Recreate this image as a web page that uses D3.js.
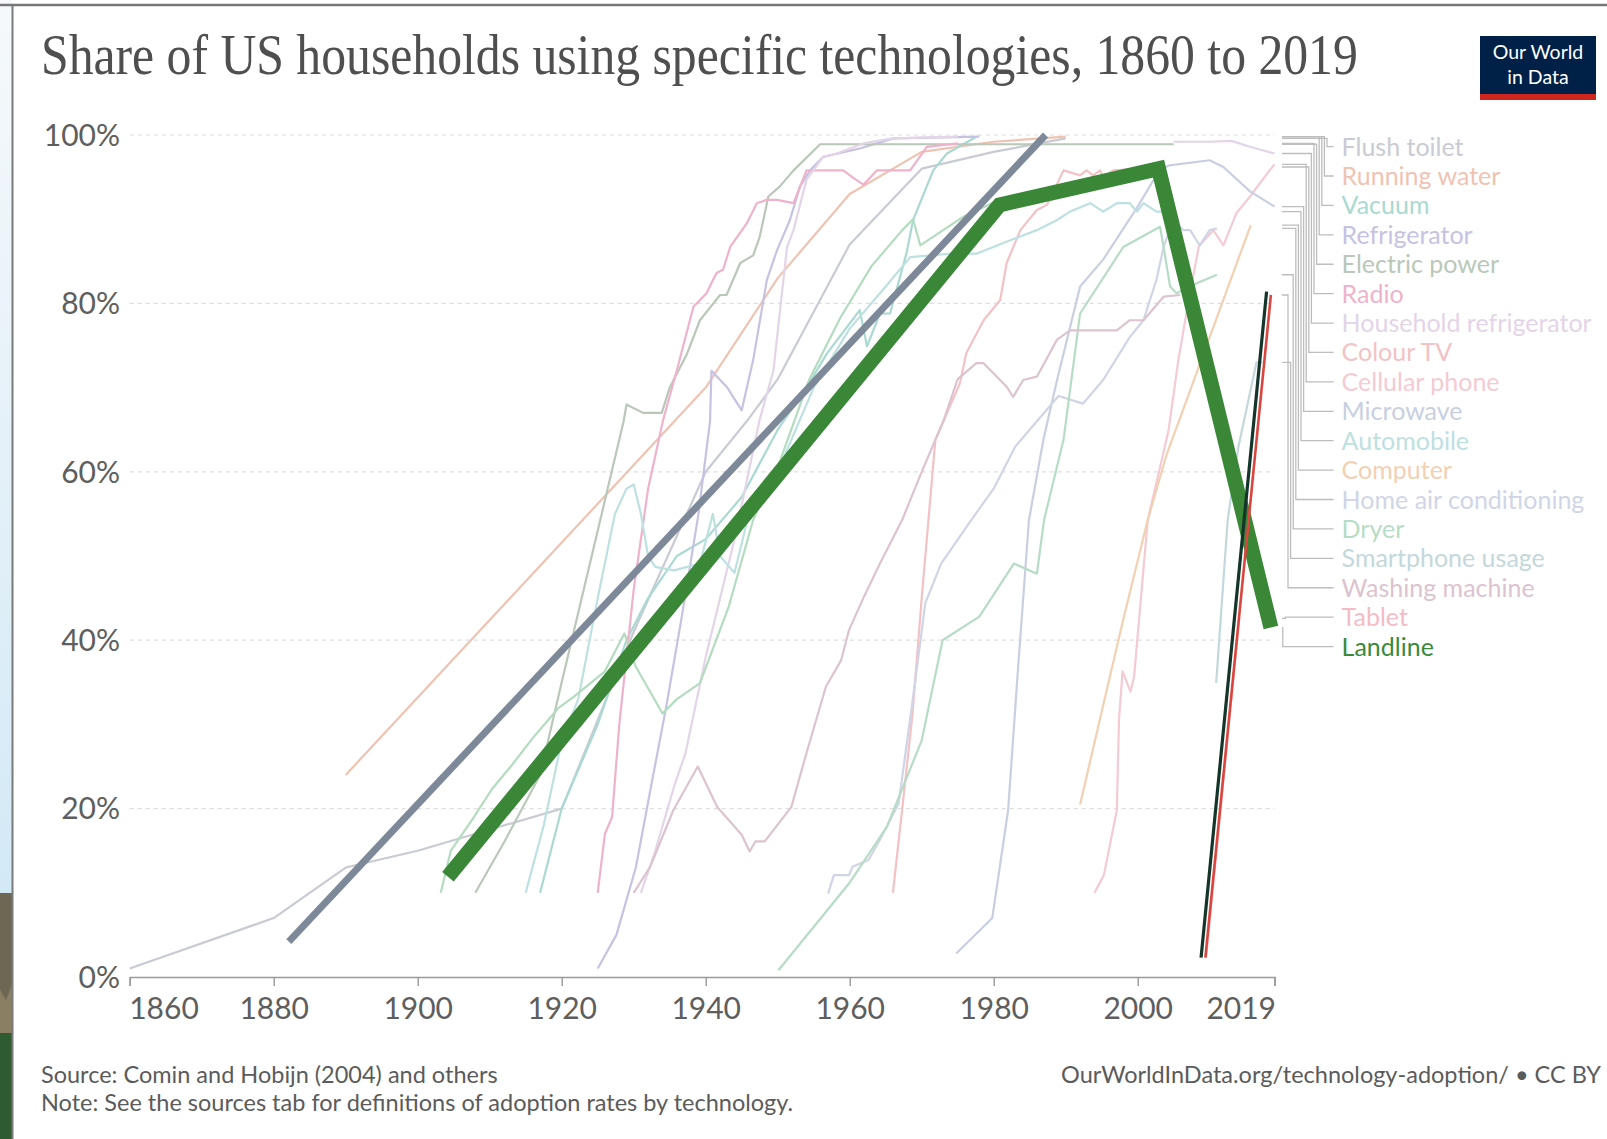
<!DOCTYPE html>
<html>
<head>
<meta charset="utf-8">
<script src="https://cdn.jsdelivr.net/npm/d3@7"></script>
<style>
  html, body { margin: 0; padding: 0; background: #fff; }
  svg { display: block; }
  text { font-family: Lato, "Noto Sans", sans-serif; }
</style>
</head>
<body>
<svg id="chart" width="1607" height="1139"></svg>
<script>
// ---- data (year, share in %) ----
const legendNames = ["Flush toilet", "Running water", "Vacuum", "Refrigerator", "Electric power", "Radio",
  "Household refrigerator", "Colour TV", "Cellular phone", "Microwave", "Automobile", "Computer",
  "Home air conditioning", "Dryer", "Smartphone usage", "Washing machine", "Tablet", "Landline"];

const fadedColors = ["#c9cbd4", "#efc3b2", "#a9d9d2", "#c6c2e2", "#b9c8b8", "#efb2cb",
  "#e4d4e8", "#f2c2c4", "#f4cad3", "#c8cfe1", "#bde0e1", "#f2d0b2",
  "#d0d5e6", "#b7dcc5", "#c3d8dc", "#dcc3d0", "#f4bcc5", "#3a8a3a"];

const flushToilet = [[1860,1],[1880,7],[1890,13],[1900,15],[1920,20],[1930,41],[1940,60],[1945.7,66],[1950,71],[1960,87],[1970,96],[1980,98],[1990,99.6]];
const runningWater = [[1890,24],[1940,70],[1950,83],[1960,93],[1970,98],[1980,99.2],[1990,99.8]];
const vacuum = [[1917,10],[1920,20],[1925,30],[1929,40],[1932,45],[1936,50],[1940,52],[1945,57],[1950,65],[1954,70],[1956.8,74],[1961.4,79.2],[1962.4,74.9],[1964.2,78.8],[1965.6,78.8],[1967.9,86],[1968.8,89.9],[1971.6,95.8],[1973.5,97.8],[1977.6,99.8]];
const refrigerator = [[1925,1],[1927.6,5],[1930.3,13],[1932.4,22.6],[1934.5,32],[1936.6,42.4],[1939,55],[1940.6,66],[1940.8,72],[1943,70],[1945,67.3],[1946.6,73.3],[1948.5,82.8],[1949.9,86.3],[1951.7,89.9],[1953.1,93.9],[1954.5,95.8],[1956.3,97.4],[1961.4,98.4],[1966.1,99.6],[1978,99.8]];
const electricPower = [[1908,10],[1912,16],[1917,24],[1920,35],[1925,53],[1928.6,66],[1929,68],[1931.3,67],[1933.9,67],[1935,70],[1937.4,74],[1939.2,78],[1942,81],[1942.9,81],[1944.8,84.8],[1946.6,85.7],[1947.5,87.9],[1948.7,92.7],[1950.3,93.9],[1952.2,95.8],[1955.9,98.9],[2005,98.9]];
const radio = [[1925,10],[1926,17],[1927,19],[1928,30],[1930,46],[1932,58],[1934.1,66.2],[1936,72.1],[1938.3,79.6],[1940.1,81.2],[1941.5,83.6],[1942.4,84],[1943.4,86.7],[1945.7,89.5],[1947.1,91.9],[1948.5,92.3],[1949.9,92.3],[1952.2,91.9],[1954,95.8],[1959.1,95.8],[1960.5,94.9],[1961.9,94.1],[1963.8,95.8],[1968.4,95.8],[1970.7,98.6],[1975,99]];
const householdRefrigerator = [[1931,10],[1932.9,14.7],[1935.6,22.6],[1937.2,26.6],[1940,38],[1944,52],[1947.5,66.2],[1949.4,72],[1951.3,86.7],[1952.2,88.7],[1954,94.7],[1956.3,97.4],[1958.2,97.8],[1961.9,99],[1966,99.6],[1975,99.8],
  [2004,null],[2005,99.2],[2010,99.2],[2013,99.3],[2015.6,98.6],[2019,97.8]];
const colourTV = [[1966,10],[1967.3,20],[1968.7,31],[1970,45],[1971.9,63.8],[1975.3,70.5],[1976.2,74.1],[1978.6,78],[1980.9,80.4],[1981.8,84.8],[1983.7,88.7],[1986,91.1],[1987.4,91.7],[1989.7,95.8],[1992,95.2],[1992.9,95.8],[1993.8,95.2],[1994.8,95.8],[1995.2,95],[1996.6,95.8],[2004,96.2]];
const cellularPhone = [[1994,10],[1995.3,12.1],[1997.1,19.8],[1997.4,30.5],[1997.9,36.3],[1999,33.9],[1999.5,35.7],[2001.4,54.3],[2002.8,59.4],[2004.3,65],[2005.6,73],[2007,80],[2008.5,86.8],[2010.5,88.7],[2011.9,86.9],[2013.7,90.7],[2015.6,92.7],[2018.5,96],[2019,96.5]];
const microwave = [[1974.8,2.8],[1979.8,7],[1982,19.8],[1983.3,35.7],[1984.9,54.3],[1986.9,63.8],[1988.8,70.9],[1992,82],[1995.2,85.2],[2000,91.5],[2003,95.8],[2004.4,96.4],[2010,97],[2011.9,96.2],[2015.6,93.3],[2019,91.5]];
const automobile = [[1915,10],[1917.5,18],[1920,28],[1922.3,33],[1925,45],[1927.4,55],[1929,58],[1930,58.5],[1931,55],[1932,50],[1933,48.7],[1935.6,48.3],[1939.2,49.1],[1941,55],[1942,50],[1944,48],[1946,55],[1950,60],[1955,70],[1960,77],[1965,82],[1968.4,85.5],[1973.9,85.9],[1977.6,85.9],[1982.3,87.5],[1986,88.7],[1988.8,89.9],[1990.6,90.9],[1993.4,91.9],[1995.2,90.9],[1997.1,91.9],[1998.9,91.9],[1999.9,90.9],[2000.8,91.9],[2002.6,90.9],[2004.5,90.9]];
const computer = [[1992,20.5],[1995,31.5],[1998,42.5],[2001.4,54.3],[2004,62],[2007,69],[2010,76],[2013,83],[2015.7,89.3]];
const homeAirConditioning = [[1957,9.9],[1957.8,12.1],[1959.9,12.1],[1960.4,13.1],[1962.6,13.9],[1964.2,16.3],[1966.8,20.6],[1969,34.5],[1970.5,44.4],[1972.7,49.1],[1976.9,54.3],[1980,58],[1983,63],[1986,66],[1989,69],[1992.4,68.1],[1995.2,70.9],[1998.9,76],[2000.8,78],[2002.6,82.8],[2003.6,86.7],[2005,90],[2006.3,88.7],[2007.3,88.7],[2008.6,86.9],[2010,88.7],[2011,88.9]];
const dryer = [[1950.1,0.8],[1959.9,11.1],[1965.2,17.9],[1970,28.1],[1972.9,40],[1978,42.8],[1982.8,49.1],[1986,47.9],[1987,54.3],[1989.7,63.8],[1992,78.8],[1998,86.7],[2003.1,89.1],[2003.6,86.7],[2004.5,82],[2005.4,81.2],[2008.2,82.4],[2011,83.4]];
const smartphoneUsage = [[2010.9,34.9],[2012.5,54.3],[2014,63],[2015.5,69],[2016.5,73],[2017.3,73]];
const washingMachine = [[1930,10],[1932.3,13.1],[1935.5,19.8],[1938.9,25],[1941.6,20.2],[1945,16.9],[1946.1,14.9],[1946.9,16.1],[1948.2,16.1],[1951.9,20.2],[1954,26.6],[1956.7,34.5],[1958.8,37.6],[1959.9,41.2],[1962,45.2],[1964.2,49.1],[1967.3,54.3],[1970,60],[1973,66],[1975,71],[1977.6,72.9],[1978.6,72.9],[1981.8,70.1],[1982.7,68.9],[1984.1,70.9],[1986,71.3],[1988.8,75.7],[1990.6,76.8],[1997.1,76.8],[1998.9,78],[2000.8,78],[2003.6,80.8],[2005.9,81]];
const tablet = [[2009.5,2.3],[2014.1,42.6]];
const landline = [[1904.2,11.9],[1980.8,91.7],[2002.9,96],[2018.5,41.5]];

// faded green trace under the drawn landline
const oldLandline = [[1903.2,10],[1904.6,15],[1907.5,18.6],[1910.3,22.3],[1913.2,25.3],[1916,28.4],[1919.6,32],[1921.7,33.3],[1926,36.3],[1928.7,40.8],[1930.2,37],[1934,31.3],[1936,33],[1939.2,34.9],[1943.2,44],[1946.6,54.3],[1950.2,61],[1954.4,71],[1958.7,78.3],[1963,84.4],[1967.3,88.7],[1968.8,90],[1969.8,86.9],[1975.8,90.3],[1980,92]];

// drawn-on straight strokes
const greyStroke = [[1882.1,4.2],[1987.2,100]];
const darkStroke = [[2008.8,2.3],[2017.9,81.4]];
const redStroke = [[2009.4,2.3],[2018.5,81]];

const yTicks = [0, 20, 40, 60, 80, 100];
const xTicks = [1860, 1880, 1900, 1920, 1940, 1960, 1980, 2000, 2019];

const seriesData = [flushToilet, runningWater, vacuum, refrigerator, electricPower, radio,
  householdRefrigerator, colourTV, cellularPhone, microwave, automobile, computer,
  homeAirConditioning, dryer, smartphoneUsage, washingMachine, tablet, landline];

// ---- layout ----
const W = 1607, H = 1139;
const plot = { left: 129.7, right: 1274.5, top: 135, bottom: 977 };
const svg = d3.select("#chart");

const x = d3.scaleLinear().domain([1860, 2019]).range([plot.left, plot.right]);
const y = d3.scaleLinear().domain([0, 100]).range([plot.bottom, plot.top]);

// photo strip at the left edge + frame
const defs = svg.append("defs");
const sky = defs.append("linearGradient").attr("id", "sky").attr("x1", 0).attr("y1", 0).attr("x2", 0).attr("y2", 1);
sky.append("stop").attr("offset", "0%").attr("stop-color", "#f6f9fb");
sky.append("stop").attr("offset", "100%").attr("stop-color", "#d3e9f6");
svg.append("rect").attr("x", 0).attr("y", 0).attr("width", 12).attr("height", 893).attr("fill", "url(#sky)");
svg.append("rect").attr("x", 0).attr("y", 893).attr("width", 12).attr("height", 140).attr("fill", "#6c6853");
svg.append("path").attr("d", "M0,990 L6,1000 L12,985 L12,1033 L0,1033 Z").attr("fill", "#8a7f62");
svg.append("rect").attr("x", 0).attr("y", 1033).attr("width", 12).attr("height", H - 1033).attr("fill", "#2e5b30");
svg.append("line").attr("x1", 12.5).attr("x2", 12.5).attr("y1", 4).attr("y2", H).attr("stroke", "#7a7a7a").attr("stroke-width", 2);
svg.append("line").attr("x1", 0).attr("x2", W).attr("y1", 5).attr("y2", 5).attr("stroke", "#777").attr("stroke-width", 2.5);

// title: squeeze horizontally to the reference width with a transform
const title = svg.append("text")
  .style("font-family", "'Liberation Serif', 'DejaVu Serif', serif")
  .style("font-size", "57px").attr("fill", "#4f4f4f")
  .text("Share of US households using specific technologies, 1860 to 2019");
const titleW = title.node().getComputedTextLength();
title.attr("transform", `translate(41,74) scale(${1317 / titleW},1)`);

// logo
const logo = svg.append("g").attr("transform", "translate(1480,36)");
logo.append("rect").attr("width", 116).attr("height", 64).attr("fill", "#002147");
logo.append("rect").attr("y", 58).attr("width", 116).attr("height", 6).attr("fill", "#ce261e");
logo.append("text").attr("x", 58).attr("y", 23).attr("text-anchor", "middle")
  .attr("fill", "#fff").style("font-size", "19.5px").text("Our World");
logo.append("text").attr("x", 58).attr("y", 48).attr("text-anchor", "middle")
  .attr("fill", "#fff").style("font-size", "19.5px").text("in Data");

// grid + y labels
const grid = svg.append("g");
grid.selectAll("line").data(yTicks.filter(t => t > 0)).join("line")
  .attr("x1", plot.left).attr("x2", plot.right)
  .attr("y1", d => y(d)).attr("y2", d => y(d))
  .attr("stroke", "#dedede").attr("stroke-width", 1.2).attr("stroke-dasharray", "4,4");

svg.append("g").selectAll("text").data(yTicks).join("text")
  .attr("x", 120).attr("y", d => y(d)).attr("dy", "0.36em")
  .attr("text-anchor", "end").attr("fill", "#5e5e5e").style("font-size", "30px")
  .text(d => d + "%");

// x axis
const xAxis = svg.append("g").attr("transform", `translate(0,${plot.bottom})`)
  .call(d3.axisBottom(x).tickValues(xTicks).tickFormat(d3.format("d")).tickSize(9).tickPadding(12));
xAxis.select(".domain").attr("stroke", "#9a9a9a").attr("stroke-width", 1.6);
xAxis.selectAll(".tick line").attr("stroke", "#9a9a9a").attr("stroke-width", 1.4);
xAxis.selectAll(".tick text").attr("fill", "#5e5e5e").style("font-size", "30px")
  .style("font-family", "Lato, 'Noto Sans', sans-serif");
xAxis.selectAll(".tick text").filter(d => d === 1860).attr("text-anchor", "start").attr("dx", "-1");
xAxis.selectAll(".tick text").filter(d => d === 2019).attr("text-anchor", "end").attr("dx", "1");

// lines
const line = d3.line().defined(d => d[1] != null).x(d => x(d[0])).y(d => y(d[1]));
const lines = svg.append("g").attr("fill", "none").attr("stroke-linejoin", "round");

legendNames.forEach((name, i) => {
  if (name === "Landline") return;
  lines.append("path").attr("d", line(seriesData[i]))
    .attr("stroke", fadedColors[i]).attr("stroke-width", 2.2);
});
lines.append("path").attr("d", line(oldLandline)).attr("stroke", "#b3dcbf").attr("stroke-width", 2.2);

const marks = svg.append("g").attr("fill", "none");
marks.append("path").attr("d", line(greyStroke)).attr("stroke", "#7d8899").attr("stroke-width", 7);
marks.append("path").attr("d", line(landline)).attr("stroke", "#3a8737")
  .attr("stroke-width", 15).attr("stroke-linejoin", "miter").attr("stroke-miterlimit", 10);
marks.append("path").attr("d", line(darkStroke)).attr("stroke", "#15352a").attr("stroke-width", 3.2);
marks.append("path").attr("d", line(redStroke)).attr("stroke", "#d9463f").attr("stroke-width", 2.6);

// legend with connectors
const legendX = 1341.6, legendTop = 146.6, legendStep = 29.41;
const conn = svg.append("g").attr("fill", "none").attr("stroke", "#bdbdbd").attr("stroke-width", 1.3);
legendNames.forEach((name, i) => {
  const vals = seriesData[i].filter(d => d[1] != null);
  const endY = y(vals[vals.length - 1][1]);
  const labelY = legendTop + i * legendStep;
  const stepX = 1327 - i * 2.6;
  conn.append("path").attr("d", `M1282,${endY}H${stepX}V${labelY}H${legendX - 8}`);
});
svg.append("g").selectAll("text").data(legendNames).join("text")
  .attr("x", legendX).attr("y", (d, i) => legendTop + i * legendStep).attr("dy", "0.36em")
  .attr("fill", (d, i) => d === "Landline" ? "#3a8a3a" : fadedColors[i])
  .style("font-size", "25px")
  .text(d => d);

// footer
const foot = svg.append("g").attr("fill", "#5b5b5b").style("font-size", "23.5px");
foot.append("text").attr("x", 41).attr("y", 1083).text("Source: Comin and Hobijn (2004) and others");
foot.append("text").attr("x", 41).attr("y", 1111).text("Note: See the sources tab for definitions of adoption rates by technology.");
foot.append("text").attr("x", 1601).attr("y", 1083).attr("text-anchor", "end")
  .text("OurWorldInData.org/technology-adoption/ • CC BY");
</script>
</body>
</html>
